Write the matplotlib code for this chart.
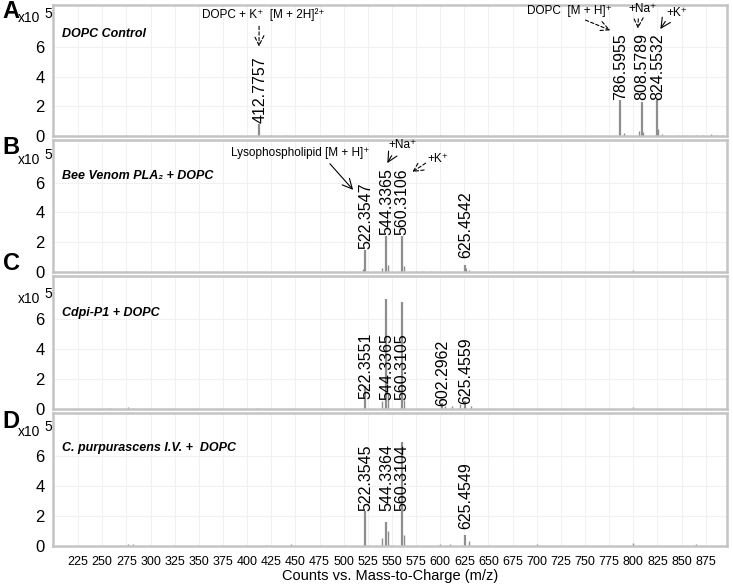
#!/usr/bin/env python3
import matplotlib
matplotlib.use("Agg")
import matplotlib.pyplot as plt
from matplotlib import font_manager

# x axis (m/z)
xticks = list(range(225, 876, 25))
yticks = [0, 2, 4, 6]

panel_letters = ["A", "B", "C", "D"]
panel_titles = ["DOPC Control", "Bee Venom PLA\u2082 + DOPC", "Cdpi-P1 + DOPC",
                "C. purpurascens I.V. +  DOPC"]

# labelled peaks: m/z, height (x10^5), label bottom (x10^5)
peaks_a = [412.7757, 786.5955, 808.5789, 824.5532]
height_a = [0.8, 2.4, 2.3, 2.4]
laby_a = [0.9, 2.45, 2.45, 2.45]

peaks_b = [522.3547, 544.3365, 560.3106, 625.4542]
height_b = [1.5, 2.4, 2.4, 0.5]
laby_b = [1.55, 2.45, 2.45, 0.95]

peaks_c = [522.3551, 544.3365, 560.3105, 602.2962, 625.4559]
height_c = [1.5, 7.3, 7.1, 0.4, 0.5]
laby_c = [0.65, 0.6, 0.6, 0.2, 0.35]

peaks_d = [522.3545, 544.3364, 560.3104, 625.4549]
height_d = [2.3, 1.6, 6.9, 0.7]
laby_d = [2.35, 2.35, 2.35, 1.1]

# small unlabelled peaks
minor_a = [275, 425, 440, 560, 600, 790, 806, 810, 826, 830, 845, 855, 865, 872, 880, 886, 892]
minor_ha = [0.05, 0.05, 0.06, 0.05, 0.05, 0.2, 0.35, 0.3, 0.5, 0.15, 0.08, 0.06, 0.1, 0.08, 0.12, 0.1, 0.1]
minor_b = [275, 520, 540, 546, 562, 575, 582, 590, 627, 630, 800]
minor_hb = [0.05, 0.2, 0.3, 0.5, 0.4, 0.08, 0.08, 0.1, 0.3, 0.15, 0.15]
minor_c = [258, 277, 282, 410, 540, 546, 562, 605, 612, 620, 632, 800]
minor_hc = [0.05, 0.1, 0.05, 0.05, 0.5, 1.0, 0.6, 0.2, 0.2, 0.3, 0.2, 0.1]
minor_d = [268, 277, 282, 420, 445, 540, 546, 562, 600, 610, 630, 700, 800, 865]
minor_hd = [0.05, 0.15, 0.1, 0.05, 0.1, 0.5, 1.0, 0.7, 0.1, 0.15, 0.3, 0.1, 0.2, 0.1]

peaks = [peaks_a, peaks_b, peaks_c, peaks_d]
heights = [height_a, height_b, height_c, height_d]
labys = [laby_a, laby_b, laby_c, laby_d]
minors = [minor_a, minor_b, minor_c, minor_d]
minor_h = [minor_ha, minor_hb, minor_hc, minor_hd]

names = {f.name for f in font_manager.fontManager.ttflist}
narrow = "Liberation Sans Narrow" if "Liberation Sans Narrow" in names else "Liberation Sans"
tick_fs = 11 if narrow == "Liberation Sans Narrow" else 9
plt.rcParams['font.family'] = ['Liberation Sans', 'DejaVu Sans']

W, H = 733, 584
fig = plt.figure(figsize=(W / 100, H / 100), dpi=100)

left, right = 53, 727
tops = [5, 140, 276, 413]
bots = [136, 272, 409, 546]
title_y = [0.78, 0.73, 0.72, 0.74]
x10_y = [0.90, 0.85, 0.83, 0.86]
peak_col = '#8e8e8e'

axes = []
for i in range(4):
    ax = fig.add_axes([left / W, 1 - bots[i] / H, (right - left) / W, (bots[i] - tops[i]) / H])
    ax.set_xlim(199, 897)
    ax.set_ylim(0, 8.85)
    ax.set_xticks(xticks)
    ax.set_yticks(yticks)
    ax.grid(True, color='#f1f1f1', lw=0.8)
    ax.set_axisbelow(True)
    for s in ax.spines.values():
        s.set_color('#c4c4c4')
        s.set_linewidth(1.8)
    ax.tick_params(length=0, pad=6)
    ax.set_yticklabels([str(t) for t in yticks], fontsize=12, family=narrow)
    if i < 3:
        ax.set_xticklabels([])
    else:
        ax.set_xticklabels([str(t) for t in xticks], fontsize=tick_fs, family=narrow)
        ax.tick_params(axis='x', pad=7)
        ax.set_xlabel("Counts vs. Mass-to-Charge (m/z)", fontsize=10.5, family=narrow, labelpad=1)

    ax.vlines(minors[i], 0, minor_h[i], color=peak_col, lw=1.0)
    ax.vlines(peaks[i], 0, heights[i], color=peak_col, lw=1.6)
    for mz, ly in zip(peaks[i], labys[i]):
        ax.text(mz + 0.5, ly, f"{mz:.4f}", rotation=90, ha='center', va='bottom', fontsize=11.5)

    ax.text(0.013, title_y[i], panel_titles[i], transform=ax.transAxes, fontsize=9,
            fontweight='bold', style='italic', ha='left', va='center')

    ax.text(-0.052, x10_y[i], "x10", transform=ax.transAxes, fontsize=10, family=narrow,
            ha='left', va='center')
    ax.text(-0.0125, x10_y[i] + 0.035, "5", transform=ax.transAxes, fontsize=10, family=narrow,
            ha='left', va='center')
    axes.append(ax)

letter_y = [11, 148, 264, 422]
for lt, py in zip(panel_letters, letter_y):
    fig.text(11 / W, 1 - py / H, lt, fontsize=17, fontweight='bold', ha='center', va='center')

hs = '->,head_length=0.7,head_width=0.35'
dash = dict(arrowstyle=hs, linestyle=(0, (3, 2)), color='black', lw=0.8)
solid = dict(arrowstyle=hs, color='black', lw=0.8)

fs_ann = 8.5
ax = axes[0]
ax.text(416.5, 8.2, "DOPC + K\u207a  [M + 2H]\u00b2\u207a", fontsize=fs_ann, ha='center', va='center')
ax.annotate("", xy=(412.4, 5.85), xytext=(412.4, 7.6), arrowprops=dash)
ax.text(734, 8.45, "DOPC  [M + H]\u207a", fontsize=fs_ann, ha='center', va='center')
ax.annotate("", xy=(778.8, 7.07), xytext=(747.8, 7.9), arrowprops=dash)
ax.text(810, 8.6, "+Na\u207a", fontsize=fs_ann, ha='center', va='center')
ax.annotate("", xy=(804.7, 7.07), xytext=(805.2, 8.1), arrowprops=dash)
ax.text(845, 8.3, "+K\u207a", fontsize=fs_ann, ha='center', va='center')
ax.annotate("", xy=(826.4, 7.07), xytext=(834.7, 7.9), arrowprops=solid)

ax = axes[1]
ax.text(454.8, 8.0, "Lysophospholipid [M + H]\u207a", fontsize=fs_ann, ha='center', va='center')
ax.annotate("", xy=(511.7, 5.37), xytext=(483.8, 7.4), arrowprops=solid)
ax.text(561.4, 8.5, "+Na\u207a", fontsize=fs_ann, ha='center', va='center')
ax.annotate("", xy=(543.8, 7.14), xytext=(551.1, 7.96), arrowprops=solid)
ax.text(597.7, 7.6, "+K\u207a", fontsize=fs_ann, ha='center', va='center')
ax.annotate("", xy=(568.7, 6.6), xytext=(587.3, 7.4), arrowprops=dash)

fig.savefig("out.png", dpi=100)
